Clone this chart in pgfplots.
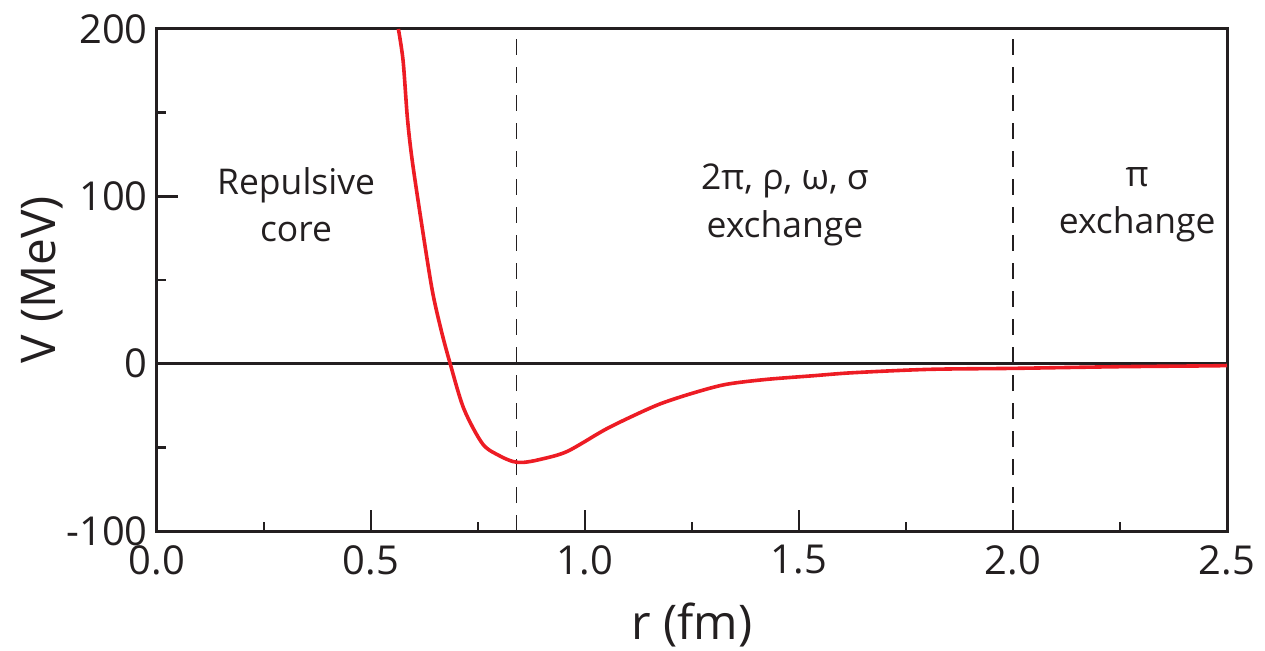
\documentclass[border=0pt]{standalone}
\usepackage{fontspec}
\setmainfont{Open Sans}
\usepackage{pgfplots}
\pgfplotsset{compat=1.18}
\definecolor{vred}{RGB}{237,28,36}
\definecolor{ink}{RGB}{35,31,32}
\begin{document}
\begin{tikzpicture}
\begin{axis}[
  scale only axis, width=535bp, height=251bp,
  xmin=0, xmax=2.5, ymin=-100, ymax=200,
  axis line style={line width=1.5bp, color=ink},
  tick style={line width=1.3bp, color=ink},
  tick align=inside, tick pos=left,
  major tick length=10.5bp, minor tick length=4.5bp,
  xtick={0,0.5,1,1.5,2,2.5}, xticklabels={0.0,0.5,1.0,1.5,2.0,2.5},
  minor xtick={0.25,0.75,1.25,1.75,2.25},
  ytick={-100,0,100,200}, yticklabels={-100,0,100,200},
  minor ytick={-50,50,150},
  ticklabel style={font=\fontsize{20}{20}\selectfont, text=ink},
  xticklabel style={inner sep=0pt, anchor=north, yshift=-7bp},
  yticklabel style={inner sep=0pt, anchor=east, xshift=-4.5bp},
  xlabel={r (fm)}, ylabel={V (MeV)},
  label style={font=\fontsize{24}{24}\selectfont, text=ink},
  xlabel style={at={(axis description cs:0.5,-0.187)}, anchor=center},
  ylabel style={at={(axis description cs:-0.1075,0.5)}, anchor=center},
]
\addplot[ink, line width=0.9bp, dash pattern=on 8bp off 6bp] coordinates {(0.84,-100) (0.84,200)};
\addplot[ink, line width=0.9bp, dash pattern=on 8bp off 6bp] coordinates {(2.0,-100) (2.0,200)};
\addplot[ink, line width=1.5bp] coordinates {(0,0) (2.5,0)};
\addplot[vred, line width=1.8bp, smooth, tension=0.5] table {
x y
0.564 200
0.575 181
0.585 147
0.596 122
0.618 84
0.643 44
0.664 20
0.685 0
0.717 -27
0.761 -48
0.800 -55
0.832 -58.5
0.856 -59
0.894 -57.3
0.958 -52.5
1.047 -39.4
1.119 -30.4
1.177 -23.9
1.248 -17.9
1.327 -12.5
1.420 -9.5
1.534 -7.2
1.627 -5.4
1.804 -3.4
2.003 -2.8
2.250 -1.8
2.460 -1.3
2.500 -1.1
};
\node[align=center, text=ink, font=\fontsize{17.8}{24}\selectfont] at (axis cs:0.325,95) {Repulsive\\core};
\node[align=center, text=ink, font=\fontsize{17.8}{24}\selectfont] at (axis cs:1.467,95) {2π, ρ, ω, σ\\exchange};
\node[align=center, text=ink, font=\fontsize{17.8}{24}\selectfont] at (axis cs:2.29,95) {π\\exchange};
\coordinate (bl) at (rel axis cs:0,0);
\coordinate (tr) at (rel axis cs:1,1);
\end{axis}
\pgfresetboundingbox
\path ([shift={(-78.5bp,-60bp)}]bl) rectangle ([shift={(19bp,14.5bp)}]tr);
\end{tikzpicture}
\end{document}
